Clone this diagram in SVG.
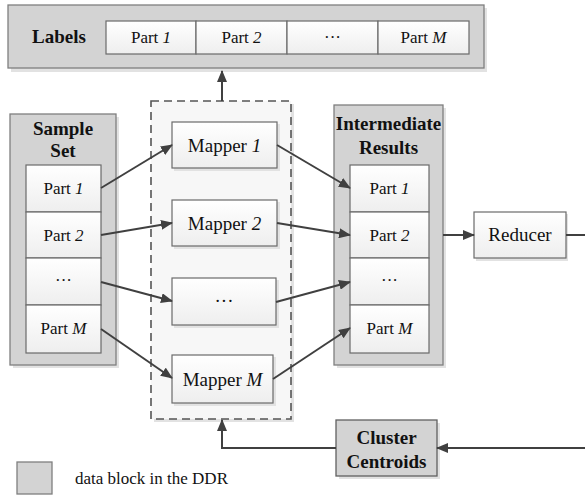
<svg xmlns="http://www.w3.org/2000/svg" width="585" height="495" viewBox="0 0 585 495">
<defs>
<linearGradient id="wg" x1="0" y1="0" x2="0" y2="1">
<stop offset="0" stop-color="#ffffff"/>
<stop offset="1" stop-color="#eeeeee"/>
</linearGradient>
<marker id="ah" viewBox="0 0 12 10" refX="11" refY="5" markerWidth="12" markerHeight="10" markerUnits="userSpaceOnUse" orient="auto">
<path d="M0,0 L12,5 L0,10 Z" fill="#404040"/>
</marker>
</defs>
<style>
.outer{fill:#d3d3d3;stroke:#7f7f7f;stroke-width:1.3}
.sh{fill:#e2e2e2}
.inner{fill:url(#wg);stroke:#6a6a6a;stroke-width:1.2}
.dash{fill:#f7f7f7;stroke:#555555;stroke-width:1.6;stroke-dasharray:8 5}
.t{font-family:"Liberation Serif","Times New Roman",serif;font-size:17px;fill:#111;text-anchor:middle}
.tm{font-family:"Liberation Serif","Times New Roman",serif;font-size:19px;fill:#111;text-anchor:middle}
.b{font-family:"Liberation Serif","Times New Roman",serif;font-size:19px;font-weight:bold;fill:#111;text-anchor:middle}
.lg{font-family:"Liberation Serif","Times New Roman",serif;font-size:17px;fill:#111}
.c{fill:none;stroke:#404040;stroke-width:2}
</style>

<g id="labels">
<rect class="sh" x="11" y="8" width="476" height="64"/>
<rect class="outer" x="8" y="5" width="476" height="63"/>
<text class="b" x="59" y="43">Labels</text>
<rect class="inner" x="106" y="21" width="90" height="33"/>
<text class="t" x="151" y="43">Part <tspan font-style="italic">1</tspan></text>
<rect class="inner" x="196" y="21" width="91" height="33"/>
<text class="t" x="241.5" y="43">Part <tspan font-style="italic">2</tspan></text>
<rect class="inner" x="287" y="21" width="91" height="33"/>
<text class="t" x="332.5" y="43">···</text>
<rect class="inner" x="378" y="21" width="91" height="33"/>
<text class="t" x="423.5" y="43">Part <tspan font-style="italic">M</tspan></text>
</g>

<g id="mappers">
<rect class="sh" x="154" y="104" width="140" height="318"/>
<rect class="dash" x="151" y="101" width="140" height="318"/>
</g>

<g id="sample-set">
<rect class="sh" x="13" y="117" width="106" height="251"/>
<rect class="outer" x="10" y="114" width="106" height="251"/>
<text class="b" x="63" y="135">Sample</text>
<text class="b" x="63" y="157">Set</text>
<rect class="inner" x="26" y="165" width="75" height="47"/>
<text class="t" x="63.5" y="194">Part <tspan font-style="italic">1</tspan></text>
<rect class="inner" x="26" y="212" width="75" height="46"/>
<text class="t" x="63.5" y="241">Part <tspan font-style="italic">2</tspan></text>
<rect class="inner" x="26" y="258" width="75" height="47"/>
<text class="t" x="63.5" y="286">···</text>
<rect class="inner" x="26" y="305" width="75" height="48"/>
<text class="t" x="63.5" y="334">Part <tspan font-style="italic">M</tspan></text>
</g>

<g id="mapper-1">
<rect class="sh" x="174" y="124" width="106" height="47"/>
<rect class="inner" x="172" y="122" width="105" height="46"/>
<text class="tm" x="224.5" y="152">Mapper <tspan font-style="italic">1</tspan></text>
</g>
<g id="mapper-2">
<rect class="sh" x="174" y="202" width="106" height="47"/>
<rect class="inner" x="172" y="200" width="105" height="46"/>
<text class="tm" x="224.5" y="230">Mapper <tspan font-style="italic">2</tspan></text>
</g>
<g id="mapper-dots">
<rect class="sh" x="174" y="280" width="105" height="48"/>
<rect class="inner" x="172" y="278" width="104" height="47"/>
<text class="tm" x="224" y="307">···</text>
</g>
<g id="mapper-m">
<rect class="sh" x="174" y="357" width="102" height="49"/>
<rect class="inner" x="172" y="355" width="101" height="48"/>
<text class="tm" x="222.5" y="386">Mapper <tspan font-style="italic">M</tspan></text>
</g>

<g id="intermediate-results">
<rect class="sh" x="337" y="108" width="109" height="260"/>
<rect class="outer" x="334" y="105" width="109" height="260"/>
<text class="b" x="388.5" y="130">Intermediate</text>
<text class="b" x="388.5" y="154">Results</text>
<rect class="inner" x="350" y="165" width="79" height="47"/>
<text class="t" x="389.5" y="194">Part <tspan font-style="italic">1</tspan></text>
<rect class="inner" x="350" y="212" width="79" height="46"/>
<text class="t" x="389.5" y="241">Part <tspan font-style="italic">2</tspan></text>
<rect class="inner" x="350" y="258" width="79" height="47"/>
<text class="t" x="389.5" y="286">···</text>
<rect class="inner" x="350" y="305" width="79" height="48"/>
<text class="t" x="389.5" y="334">Part <tspan font-style="italic">M</tspan></text>
</g>

<g id="reducer">
<rect class="sh" x="476" y="214" width="92" height="47"/>
<rect class="inner" x="474" y="212" width="92" height="46"/>
<text class="tm" x="520" y="241">Reducer</text>
</g>

<g id="cluster-centroids">
<rect class="sh" x="339" y="423" width="101" height="56"/>
<rect class="outer" x="336" y="420" width="101" height="56" style="stroke:#606060"/>
<text class="b" x="386.5" y="444">Cluster</text>
<text class="b" x="386.5" y="468">Centroids</text>
</g>

<g id="legend">
<rect class="outer" x="17" y="462" width="35" height="32"/>
<text class="lg" x="75" y="484">data block in the DDR</text>
</g>

<g id="connectors">
<line class="c" x1="101" y1="188" x2="172" y2="145" marker-end="url(#ah)"/>
<line class="c" x1="101" y1="235" x2="172" y2="223" marker-end="url(#ah)"/>
<line class="c" x1="101" y1="282" x2="172" y2="301" marker-end="url(#ah)"/>
<line class="c" x1="101" y1="329" x2="172" y2="378" marker-end="url(#ah)"/>
<line class="c" x1="277" y1="145" x2="350" y2="188" marker-end="url(#ah)"/>
<line class="c" x1="277" y1="223" x2="350" y2="235" marker-end="url(#ah)"/>
<line class="c" x1="276" y1="302" x2="350" y2="282" marker-end="url(#ah)"/>
<line class="c" x1="273" y1="379" x2="350" y2="328" marker-end="url(#ah)"/>
<line class="c" x1="443" y1="235" x2="474" y2="235" marker-end="url(#ah)"/>
<line class="c" x1="566" y1="235" x2="586" y2="235"/>
<line class="c" x1="586" y1="448" x2="437" y2="448" marker-end="url(#ah)"/>
<polyline class="c" points="336,448 222,448 222,420" marker-end="url(#ah)"/>
<line class="c" x1="222" y1="101" x2="222" y2="71" marker-end="url(#ah)"/>
</g>
</svg>
